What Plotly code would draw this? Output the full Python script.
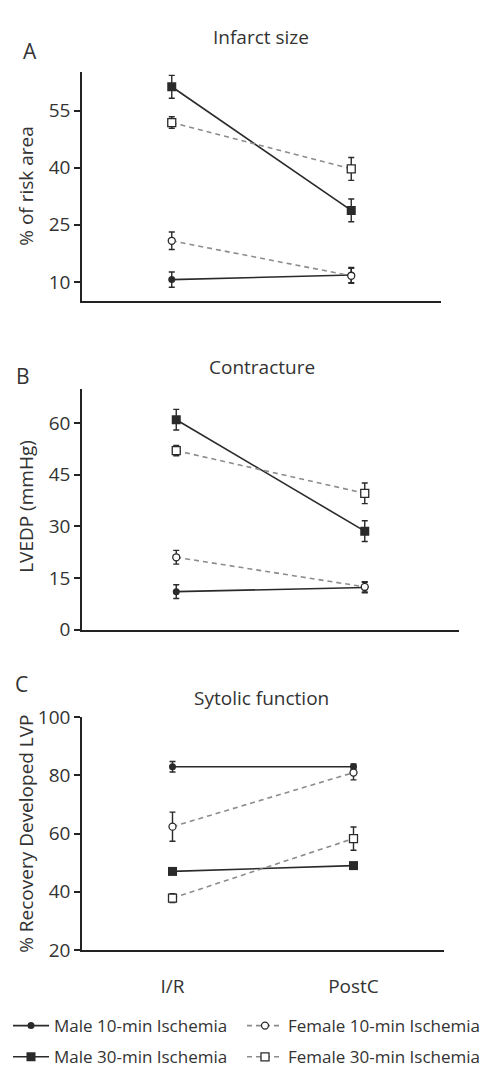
import plotly.graph_objects as go

W, H = 495, 1081

categories = ["I/R", "PostC"]
series_names = ["Male 10-min Ischemia", "Female 10-min Ischemia",
                "Male 30-min Ischemia", "Female 30-min Ischemia"]

# Panel A: Infarct size (% of risk area)
infarct_male10 = [10.6, 11.8]
infarct_male10_err = [2.0, 2.0]
infarct_female10 = [20.8, 11.6]
infarct_female10_err = [2.3, 2.0]
infarct_male30 = [61.3, 28.8]
infarct_male30_err = [3.0, 3.0]
infarct_female30 = [51.9, 39.7]
infarct_female30_err = [1.5, 3.0]

# Panel B: Contracture (LVEDP mmHg)
lvedp_male10 = [11.0, 12.2]
lvedp_male10_err = [2.0, 1.5]
lvedp_female10 = [21.0, 12.4]
lvedp_female10_err = [2.0, 1.5]
lvedp_male30 = [61.0, 28.6]
lvedp_male30_err = [3.0, 3.0]
lvedp_female30 = [52.0, 39.6]
lvedp_female30_err = [1.5, 3.0]

# Panel C: Systolic function (% recovery developed LVP)
lvp_male10 = [83.0, 83.0]
lvp_male10_err = [1.8, 1.0]
lvp_female10 = [62.4, 81.0]
lvp_female10_err = [5.0, 2.5]
lvp_male30 = [47.0, 49.0]
lvp_male30_err = [0.8, 0.8]
lvp_female30 = [37.8, 58.3]
lvp_female30_err = [1.5, 4.0]

FONT = "Open Sans"
TXT = "#333333"
DARK = "#2a2a2a"
GREY = "#8c8c8c"

styles = [
    dict(line=dict(color=DARK, width=1.6), marker=dict(symbol="circle", size=7, color=DARK)),
    dict(line=dict(color=GREY, width=1.6, dash="5px,4px"),
         marker=dict(symbol="circle", size=7, color="white", line=dict(color=DARK, width=1.3))),
    dict(line=dict(color=DARK, width=1.6), marker=dict(symbol="square", size=9, color=DARK)),
    dict(line=dict(color=GREY, width=1.6, dash="5px,4px"),
         marker=dict(symbol="square", size=8, color="white", line=dict(color=DARK, width=1.3))),
]

panels = [
    ("x", "y", [infarct_male10, infarct_female10, infarct_male30, infarct_female30],
     [infarct_male10_err, infarct_female10_err, infarct_male30_err, infarct_female30_err]),
    ("x2", "y2", [lvedp_male10, lvedp_female10, lvedp_male30, lvedp_female30],
     [lvedp_male10_err, lvedp_female10_err, lvedp_male30_err, lvedp_female30_err]),
    ("x3", "y3", [lvp_male10, lvp_female10, lvp_male30, lvp_female30],
     [lvp_male10_err, lvp_female10_err, lvp_male30_err, lvp_female30_err]),
]

fig = go.Figure()
legend_ids = ["legend", "legend2", "legend3", "legend4"]
for pi, (xa, ya, vals, errs) in enumerate(panels):
    for si in range(4):
        st = styles[si]
        fig.add_trace(go.Scatter(
            x=categories, y=vals[si], xaxis=xa, yaxis=ya,
            mode="lines+markers", name=series_names[si],
            line=st["line"], marker=st["marker"],
            error_y=dict(type="data", array=errs[si], visible=True,
                         color=DARK, thickness=1.4, width=3),
            showlegend=(pi == 2), legend=legend_ids[si],
        ))

def px_x(p):
    return p / W

def px_y(p):
    return 1 - p / H

axis_common = dict(showgrid=False, zeroline=False, showline=True,
                   linecolor="#222222", linewidth=1.6,
                   tickfont=dict(family=FONT, size=19, color=TXT))

xdefs = [(82, 441), (82, 459), (82, 444)]
ydefs = [(60, 295, [5, 65.3], [10, 25, 40, 55]),
         (385, 631.7, [0, 70], [0, 15, 30, 45, 60]),
         (721.7, 960, [20, 100], [20, 40, 60, 80, 100])]

layout_axes = {}
for i in range(3):
    sfx = "" if i == 0 else str(i + 1)
    x0, x1 = xdefs[i]
    yt, yb, yr, yticks = ydefs[i]
    layout_axes["xaxis" + sfx] = dict(
        axis_common, domain=[px_x(x0), px_x(x1)], anchor="y" + sfx,
        type="category", range=[-0.5, 1.5], ticks="",
        showticklabels=(i == 2), ticklabelstandoff=18)
    layout_axes["yaxis" + sfx] = dict(
        axis_common, domain=[px_y(yb), px_y(yt)], anchor="x" + sfx,
        range=yr, tickvals=yticks, ticks="outside", ticklen=6,
        tickwidth=1.6, tickcolor="#222222")

annotations = []
# Titles
for text, cx, cy in [("Infarct size", 261, 25), ("Contracture", 262, 363),
                     ("Sytolic function", 261, 702)]:
    annotations.append(dict(text=text, x=px_x(cx), y=px_y(cy), xref="paper", yref="paper",
                            showarrow=False, xanchor="center", yanchor="middle",
                            font=dict(family=FONT, size=19, color=TXT)))
# Panel letters
for text, cx, cy in [("A", 30, 39), ("B", 23, 372), ("C", 21, 688)]:
    annotations.append(dict(text=text, x=px_x(cx), y=px_y(cy), xref="paper", yref="paper",
                            showarrow=False, xanchor="center", yanchor="middle",
                            font=dict(family=FONT, size=21, color=TXT)))
# Y-axis titles
for text, cx, cy in [("% of risk area", 26, 178), ("LVEDP (mmHg)", 26, 506),
                     ("% Recovery Developed LVP", 26, 841)]:
    annotations.append(dict(text=text, x=px_x(cx), y=px_y(cy), xref="paper", yref="paper",
                            showarrow=False, xanchor="center", yanchor="middle",
                            textangle=-90, font=dict(family=FONT, size=19, color=TXT)))

legend_pos = [(8, 1038), (242, 1038), (8, 1070), (242, 1070)]
legends = {}
for lid, (lx, ly) in zip(legend_ids, legend_pos):
    legends[lid] = dict(x=px_x(lx), y=px_y(ly), xanchor="left", yanchor="middle",
                        orientation="h", bgcolor="rgba(0,0,0,0)", borderwidth=0,
                        font=dict(family=FONT, size=17, color=TXT),
                        itemwidth=36)

fig.update_layout(
    width=W, height=H, margin=dict(l=0, r=0, t=0, b=0),
    paper_bgcolor="white", plot_bgcolor="white",
    annotations=annotations, **layout_axes, **legends,
)

fig.write_html("out.html")
